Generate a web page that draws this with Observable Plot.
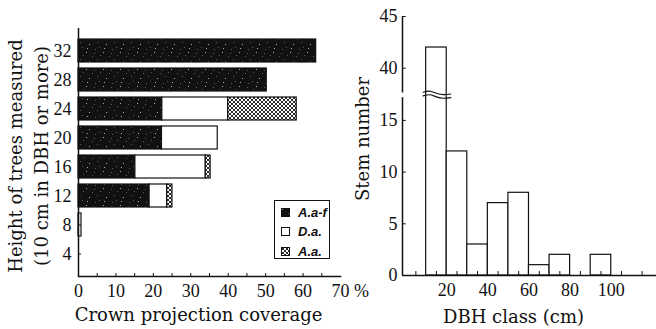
<!DOCTYPE html>
<html><head><meta charset="utf-8">
<script src="https://cdn.jsdelivr.net/npm/d3@7"></script>
<script src="https://cdn.jsdelivr.net/npm/@observablehq/plot@0.6"></script>
<style>
body{margin:0;background:#fff;}
#wrap{position:relative;width:656px;height:329px;overflow:hidden;}
#left,#right{position:absolute;top:0;}
#left{left:0;width:360px;} #right{left:360px;width:296px;}
#legend{position:absolute;left:274px;top:200px;width:54px;height:57px;border:1.2px solid #111;background:#fff;
  font-family:"Liberation Sans",Arial,sans-serif;font-style:italic;font-weight:bold;font-size:13px;color:#111;overflow:hidden;}
#legend .it{position:absolute;left:6px;height:12px;display:flex;align-items:center;white-space:nowrap;}
#legend svg{margin-right:8px;}
</style></head><body>
<div id="wrap"><div id="left"></div><div id="right"></div><div id="legend"></div></div>
<script>
// ---- Data: left panel (crown projection coverage, %) ----
const heights = ["32", "28", "24", "20", "16", "12", "8", "4"];
const species = ["A.a-f", "D.a.", "A.a."];
const coverAaf = [63.5, 50.3, 22.4, 22.3, 15.2, 19.0, 0, 0];
const coverDa  = [0, 0, 17.6, 14.9, 18.8, 4.7, 0.8, 0];
const coverAa  = [0, 0, 18.3, 0, 1.3, 1.4, 0, 0];
const coverageTicks = [0, 10, 20, 30, 40, 50, 60];
const coverageMinor = [5, 10, 15, 20, 25, 30, 35, 40, 45, 50, 55, 60, 65];
const coverageMax = 70;

// ---- Data: right panel (stem number by DBH class) ----
const dbhStart = [10, 20, 30, 40, 50, 60, 70, 80, 90];
const stems = [42, 12, 3, 7, 8, 1, 2, 0, 2];
const dbhTicks = [20, 40, 60, 80, 100];
const dbhMids = [5, 15, 25, 35, 45, 55, 65, 75, 85, 95, 105, 115];
const stemTicks = [0, 5, 10, 15, 40, 45];
const stemMax = 45;
const breakLow = 17.2, breakHigh = 37.6, breakGap = 0.45;

const ink = "#111";
const serif = "DejaVu Serif";

// broken-axis helper: values above the break are shifted down
const compress = v => v <= breakLow ? v : v - (breakHigh - breakLow) + breakGap;
const expand = c => c <= breakLow ? c : c + (breakHigh - breakLow) - breakGap;

const rows = [];
heights.forEach((h, i) => {
  [coverAaf, coverDa, coverAa].forEach((arr, j) => {
    if (arr[i] > 0) rows.push({height: h, species: species[j], value: arr[i]});
  });
});

const leftFrameH = 329 - 28 - 53;
const left = Plot.plot({
  width: 360, height: 329,
  marginTop: 28, marginRight: 20, marginBottom: 53, marginLeft: 78,
  style: {background: "transparent", overflow: "visible", fontFamily: "Liberation Serif", fontSize: "18px", color: ink},
  x: {domain: [0, coverageMax]},
  y: {type: "band", domain: heights, paddingInner: 0.19, paddingOuter: 0.095, insetTop: 6, insetBottom: 5},
  color: {domain: species, range: ["url(#speck)", "white", "url(#xhatch)"]},
  marks: [
    Plot.barX(rows, Plot.stackX({x: "value", y: "height", fill: "species", order: species, stroke: ink, strokeWidth: 1.2})),
    Plot.ruleX([0], {stroke: ink, strokeWidth: 1.5}),
    Plot.frame({anchor: "bottom", stroke: ink, strokeWidth: 1.5}),
    Plot.tickX(coverageMinor, {x: d => d, insetTop: leftFrameH - 3, stroke: ink, strokeWidth: 1}),
    Plot.ruleY(heights, {y: d => d, x1: 0, x2: 0.8, stroke: ink, strokeWidth: 1}),
    Plot.axisX({ticks: coverageTicks, tickSize: 0, tickPadding: 8, label: null}),
    Plot.text([coverageMax], {x: d => d, frameAnchor: "bottom", text: d => `${d} %`, textAnchor: "start", lineAnchor: "top", dx: -9, dy: 8, fontSize: 18}),
    Plot.axisY({tickSize: 0, tickPadding: 7, label: null}),
    Plot.text(["Crown projection coverage"], {frameAnchor: "bottom", text: d => d, textAnchor: "middle", dx: -11, dy: 38.5, lineAnchor: "middle", fontFamily: serif, fontSize: 18}),
    Plot.text(["Height of trees measured\n(10 cm in DBH or more)"], {frameAnchor: "left", text: d => d, textAnchor: "middle", rotate: -90, dx: -51.5, dy: 3.5, lineAnchor: "middle", lineHeight: 1.4, fontFamily: serif, fontSize: 18})
  ]
});

// patterns
const ns = "http://www.w3.org/2000/svg";
const defs = document.createElementNS(ns, "defs");
let speckDots = "";
const spk = [[1,1],[9,2],[12,8],[4,10],[7,5],[14,13],[2,14],[10,15],[15,4]];
spk.forEach(([a,b], k) => { speckDots += `<rect x="${a}" y="${b}" width="1" height="1" fill="${k % 3 === 0 ? '#aaa' : '#5a5a5a'}"/>`; });
defs.innerHTML = `
<pattern id="speck" width="17" height="17" patternUnits="userSpaceOnUse"><rect width="17" height="17" fill="#111"/>${speckDots}</pattern>
<pattern id="xhatch" width="4" height="4" patternUnits="userSpaceOnUse"><rect width="4" height="4" fill="white"/>
<path d="M0,0L4,4M4,0L0,4M-1,1L1,-1M3,5L5,3M-1,3L1,5M3,-1L5,1" stroke="#111" stroke-width="0.9"/></pattern>`;
left.insertBefore(defs, left.firstChild);
document.getElementById("left").appendChild(left);

// right panel
const hist = dbhStart.map((s, i) => ({x1: s, x2: s + 10, n: stems[i]}));
const xMin = -1.5;
const axisSegments = [[0, breakLow], [breakHigh, stemMax]];
const waveMid = breakLow + breakGap / 2;
const waveUpper = [[8.5, 0.3], [12, 0.4], [15, 0.2], [18.5, 0.07], [22, 0.13]].map(([x, o]) => ({x, y: waveMid + o}));
const waveLower = [[8.5, -0.05], [12, 0.05], [15, -0.15], [18.5, -0.28], [22, -0.22]].map(([x, o]) => ({x, y: waveMid + o}));

const right = Plot.plot({
  width: 296, height: 329,
  marginTop: 16, marginRight: 0, marginBottom: 54, marginLeft: 42,
  style: {background: "transparent", overflow: "visible", fontFamily: "Liberation Serif", fontSize: "18px", color: ink},
  x: {domain: [xMin, 122]},
  y: {domain: [0, compress(stemMax)]},
  marks: [
    Plot.rectY(hist, {x1: "x1", x2: "x2", y1: 0, y2: d => compress(d.n), fill: "white", stroke: ink, strokeWidth: 1.2}),
    Plot.line(waveUpper, {x: "x", y: "y", curve: "natural", stroke: ink, strokeWidth: 1.1}),
    Plot.line(waveLower, {x: "x", y: "y", curve: "natural", stroke: ink, strokeWidth: 1.1}),
    Plot.ruleY([0], {stroke: ink, strokeWidth: 1.5}),
    Plot.ruleX(axisSegments, {x: xMin, y1: d => compress(d[0]), y2: d => compress(d[1]), stroke: ink, strokeWidth: 1.5}),
    Plot.ruleX(dbhMids, {x: d => d, y1: 0, y2: 0.38, stroke: ink, strokeWidth: 1}),
    Plot.ruleY(stemTicks.map(compress), {y: d => d, x1: xMin, x2: xMin + 1.8, stroke: ink, strokeWidth: 1}),
    Plot.axisY({ticks: stemTicks.map(compress), tickFormat: c => Math.round(expand(c)), tickSize: 0, tickPadding: 5, label: null}),
    Plot.axisX({ticks: dbhTicks, tickSize: 0, tickPadding: 8, label: null}),
    Plot.text(["DBH class (cm)"], {frameAnchor: "bottom", text: d => d, textAnchor: "middle", dx: -16, dy: 41.5, lineAnchor: "middle", fontFamily: serif, fontSize: 18}),
    Plot.text(["Stem number"], {frameAnchor: "left", text: d => d, textAnchor: "middle", rotate: -90, dx: -39, dy: -7, lineAnchor: "middle", fontFamily: serif, fontSize: 18})
  ]
});
document.getElementById("right").appendChild(right);

// legend
const legend = document.getElementById("legend");
const swatchFill = ["url(#speck)", "white", "url(#xhatch)"];
species.forEach((s, i) => {
  const it = document.createElement("div");
  it.className = "it";
  it.style.top = (5 + i * 19.5) + "px";
  it.innerHTML = `<svg width="9" height="9"><rect x="0.5" y="0.5" width="8" height="8" fill="${swatchFill[i]}" stroke="${ink}" stroke-width="1"/></svg><span>${s}</span>`;
  legend.appendChild(it);
});
</script>
</body></html>
